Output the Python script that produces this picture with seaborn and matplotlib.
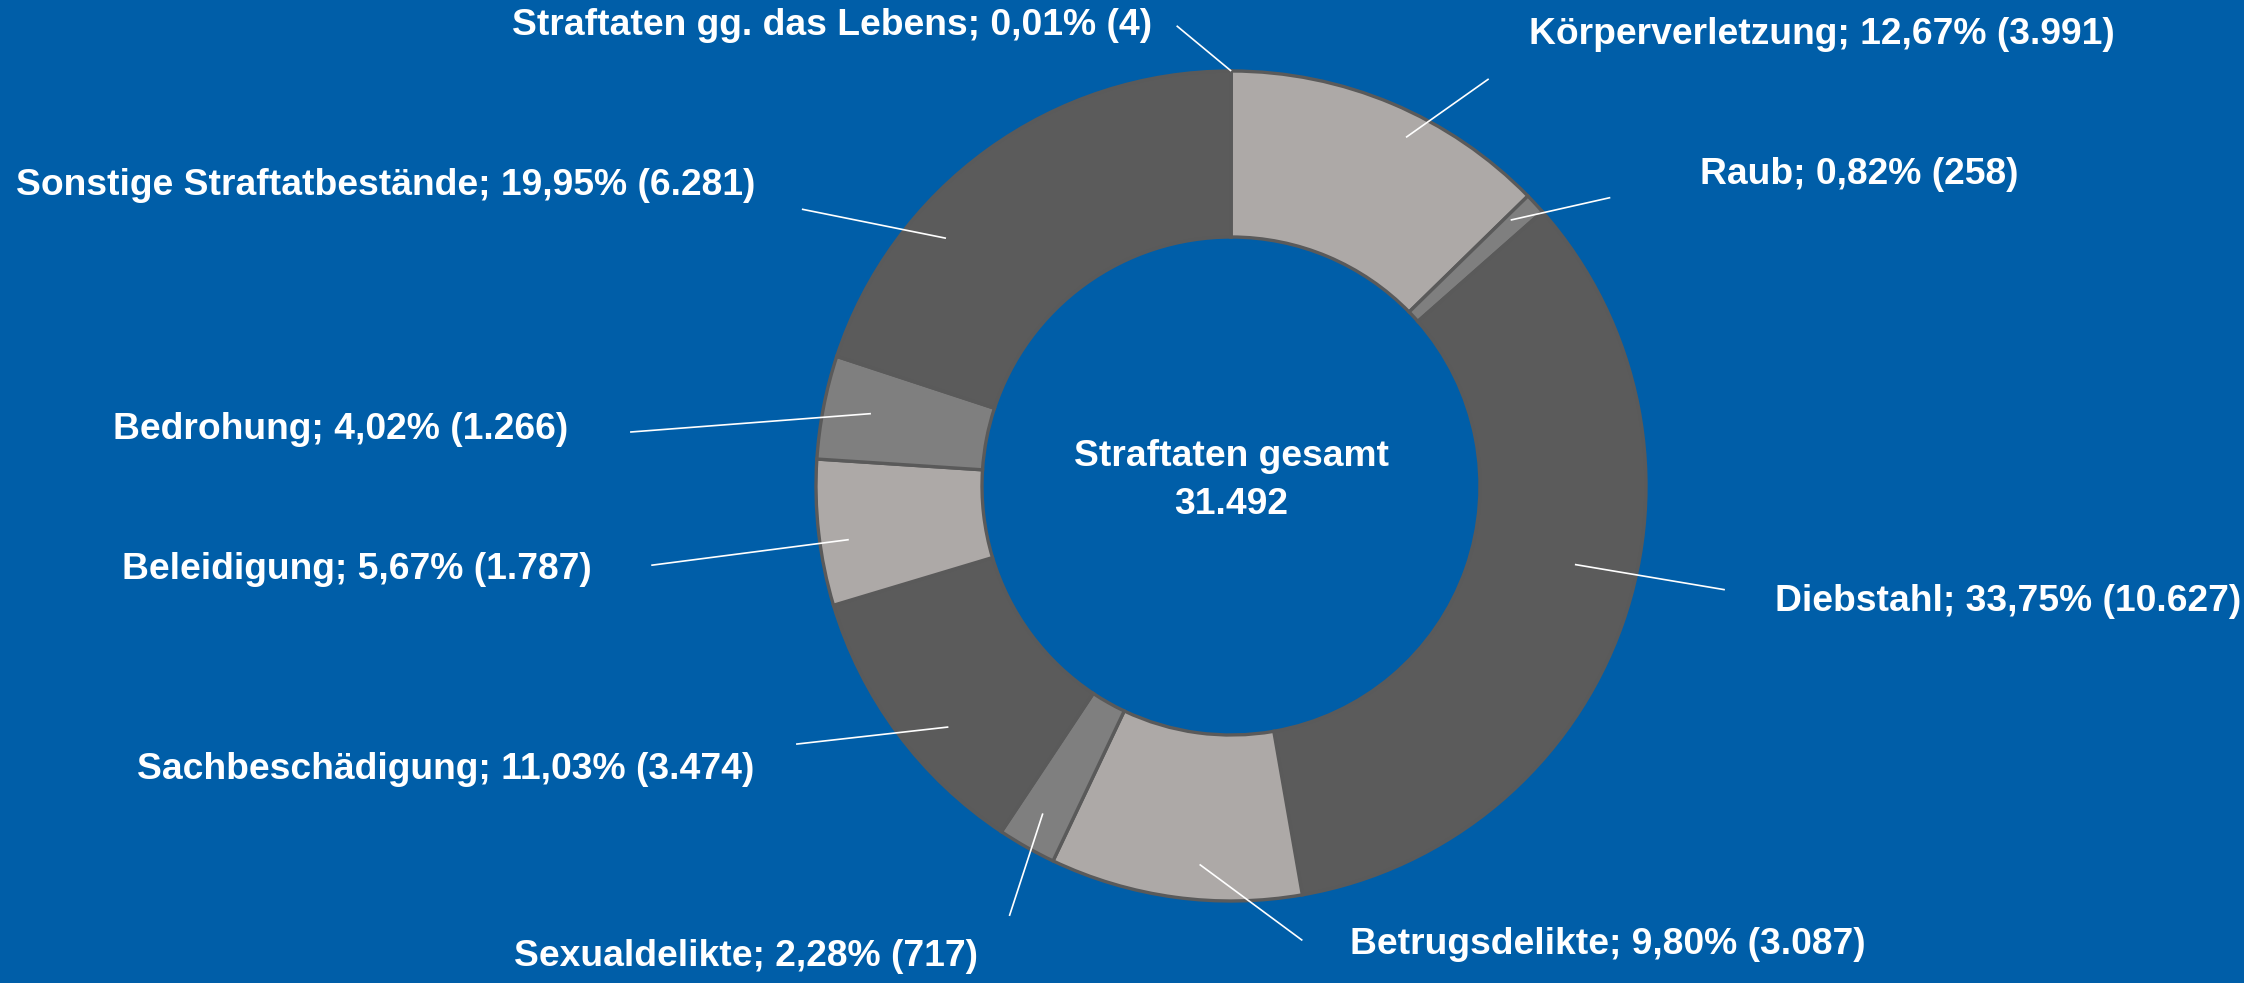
import numpy as np
import matplotlib
matplotlib.use("Agg")
import matplotlib.pyplot as plt
import seaborn as sns

# ---- data ----
categories = ["Straftaten gg. das Lebens", "Körperverletzung", "Raub", "Diebstahl",
              "Betrugsdelikte", "Sexualdelikte", "Sachbeschädigung", "Beleidigung",
              "Bedrohung", "Sonstige Straftatbestände"]
counts = [4, 3991, 258, 10627, 3087, 717, 3474, 1787, 1266, 6281]
percent_labels = ["0,01", "12,67", "0,82", "33,75", "9,80", "2,28", "11,03", "5,67", "4,02", "19,95"]
total_label = "31.492"
center_title = "Straftaten gesamt"

# ---- style / layout ----
BG = "#005EA8"
DARK, LIGHT, MID = "#5B5B5B", "#ADA9A7", "#7F7F7F"
slice_colors = [DARK, LIGHT, MID, DARK, LIGHT, MID, DARK, LIGHT, MID, DARK]
EDGE = "#5A5A5A"

# label anchor positions (in pie-radius units) and alignment
label_pos = [(-0.190, 1.109), (0.717, 1.088), (1.131, 0.750), (1.310, -0.278),
             (0.286, -1.105), (-0.610, -1.133), (-1.148, -0.684), (-1.541, -0.201),
             (-1.597, 0.135), (-1.145, 0.723)]
label_ha = ["right", "left", "left", "left", "left", "right", "right", "right", "right", "right"]
# outer ends of leader lines
line_out = [(-0.131, 1.109), (0.621, 0.981), (0.914, 0.695), (1.190, -0.250),
            (0.172, -1.095), (-0.534, -1.036), (-1.048, -0.622), (-1.397, -0.191),
            (-1.448, 0.130), (-1.034, 0.667)]
# inner ends: radius and angular shift (degrees, clockwise) from wedge middle
line_r = [1.0, 0.94, 0.93, 0.85, 0.915, 0.91, 0.895, 0.93, 0.885, 0.91]
line_shift = [0.0, 3.8, -0.7, -6.5, -3.0, 0.4, -3.9, -1.5, 0.4, -13.1]

sns.set_style("white")
plt.rcParams["font.family"] = ["Liberation Sans", "DejaVu Sans"]

W, H, DPI = 2244, 983, 100
fig = plt.figure(figsize=(W / DPI, H / DPI), dpi=DPI, facecolor=BG)
ax = fig.add_axes([0, 0, 1, 1])
ax.set_facecolor(BG)

cx, cy_top, R = 1231, 486, 415

wedges, _ = ax.pie(counts, colors=slice_colors, startangle=90, counterclock=False,
                   radius=1.0, center=(0, 0), frame=True,
                   wedgeprops=dict(width=0.40, edgecolor=EDGE, linewidth=2.4))
ax.set_xlim(-cx / R, (W - cx) / R)
ax.set_ylim(-(H - cy_top) / R, cy_top / R)
ax.set_aspect("auto")
ax.set_axis_off()

def de_int(n):
    return f"{n:,}".replace(",", ".")

for i, w in enumerate(wedges):
    ang = np.deg2rad((w.theta1 + w.theta2) / 2 - line_shift[i])
    xi, yi = line_r[i] * np.cos(ang), line_r[i] * np.sin(ang)
    xo, yo = line_out[i]
    ax.plot([xi, xo], [yi, yo], color="white", lw=1.2, solid_capstyle="butt")
    txt = f"{categories[i]}; {percent_labels[i]}% ({de_int(counts[i])})"
    ax.text(label_pos[i][0], label_pos[i][1], txt, ha=label_ha[i], va="center",
            color="white", fontsize=26.8, fontweight="bold")

ax.text(0, 0.07, center_title, ha="center", va="center", color="white",
        fontsize=26.8, fontweight="bold")
ax.text(0, -0.045, total_label, ha="center", va="center", color="white",
        fontsize=26.8, fontweight="bold")

fig.savefig("out.png", dpi=DPI, facecolor=BG)
